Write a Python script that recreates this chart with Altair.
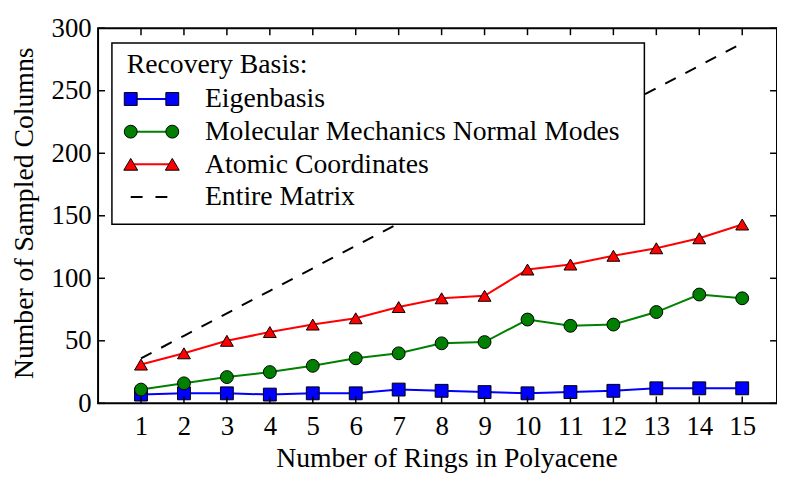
import altair as alt
import pandas as pd

# ---- data ----
rings = list(range(1, 16))
eigen = [7, 8, 8, 7, 8, 8, 11, 10, 9, 8, 9, 10, 12, 12, 12]
mm_modes = [11, 16, 21, 25, 30, 36, 40, 48, 49, 67, 62, 63, 73, 87, 84]
atomic = [31, 40, 50, 57, 63, 68, 77, 84, 86, 107, 111, 118, 124, 132, 143]
entire = [36, 54, 72, 90, 108, 126, 144, 162, 180, 198, 216, 234, 252, 270, 288]

series_names = ["Eigenbasis", "Molecular Mechanics Normal Modes", "Atomic Coordinates"]
entire_name = "Entire Matrix"
legend_title = "Recovery Basis:"
x_title = "Number of Rings in Polyacene"
y_title = "Number of Sampled Columns"
x_ticks = rings
y_ticks = [0, 50, 100, 150, 200, 250, 300]

# ---- styles ----
colors = ["#0000ff", "#008000", "#ff0000"]
TRI = "M0,-0.85L-1,0.85L1,0.85Z"
shapes = ["square", "circle", TRI]
sizes = [169, 169, 196]
FONT = "Liberation Serif"
W, H = 686, 379
XMAX = 15.81

rows = []
for name, vals in zip(series_names, [eigen, mm_modes, atomic]):
    for r, v in zip(rings, vals):
        rows.append({"ring": r, "value": v, "series": name})
df = pd.DataFrame(rows)
df_entire = pd.DataFrame({"ring": rings, "value": entire})
df_xt = pd.DataFrame({"ring": x_ticks})
df_yt = pd.DataFrame({"value": y_ticks})
one = pd.DataFrame({"k": [0]})

xscale = alt.Scale(domain=[0, XMAX], nice=False, zero=False)
yscale = alt.Scale(domain=[0, 300], nice=False, zero=False)

x_enc = alt.X(
    "ring:Q", scale=xscale,
    axis=alt.Axis(values=x_ticks, ticks=False, domain=False, grid=False,
                  labelPadding=10, title=x_title, titleX=352, titleY=64,
                  titleBaseline="alphabetic", titleAlign="center"),
)
y_enc = alt.Y(
    "value:Q", scale=yscale,
    axis=alt.Axis(values=y_ticks, ticks=False, domain=False, grid=False,
                  labelPadding=7, title=y_title, titleX=-66, titleY=H / 2 - 3,
                  titleBaseline="alphabetic", titleAlign="center", titleAngle=270),
)
cscale = alt.Scale(domain=series_names, range=colors)
sscale = alt.Scale(domain=series_names, range=shapes)
zscale = alt.Scale(domain=series_names, range=sizes)

lines = alt.Chart(df).mark_line(strokeWidth=2).encode(
    x=x_enc, y=y_enc,
    color=alt.Color("series:N", scale=cscale, legend=None),
)
points = alt.Chart(df).mark_point(filled=True, stroke="black", strokeWidth=1, opacity=1).encode(
    x="ring:Q", y="value:Q",
    fill=alt.Fill("series:N", scale=cscale, legend=None),
    shape=alt.Shape("series:N", scale=sscale, legend=None),
    size=alt.Size("series:N", scale=zscale, legend=None),
)
dashed = alt.Chart(df_entire).mark_line(color="black", strokeWidth=2, strokeDash=[12, 11]).encode(
    x="ring:Q", y="value:Q"
)

# inward ticks on all four sides
tick_style = dict(color="black", strokeWidth=1.5)
tb = alt.Chart(df_xt).mark_rule(**tick_style).encode(x="ring:Q", y=alt.value(H), y2=alt.value(H - 7))
tt = alt.Chart(df_xt).mark_rule(**tick_style).encode(x="ring:Q", y=alt.value(0), y2=alt.value(7))
tl = alt.Chart(df_yt).mark_rule(**tick_style).encode(y="value:Q", x=alt.value(0), x2=alt.value(7))
tr = alt.Chart(df_yt).mark_rule(**tick_style).encode(y="value:Q", x=alt.value(W - 7), x2=alt.value(W))

# legend (drawn in plot pixel coordinates)
LFS = 28
layers = [lines, points, dashed, tb, tt, tl, tr]
box = alt.Chart(one).mark_rect(fill="white", stroke="black", strokeWidth=1.5).encode(
    x=alt.value(14), x2=alt.value(552), y=alt.value(15), y2=alt.value(198)
)
layers.append(box)
layers.append(alt.Chart(one).mark_text(text=legend_title, align="left", baseline="alphabetic",
                                       font=FONT, fontSize=LFS, color="black").encode(
    x=alt.value(29), y=alt.value(45)))
sym_x1, sym_x2 = 33, 75
text_x = 108
base_y = 80
step = 33
for i, name in enumerate(series_names + [entire_name]):
    by = base_y + i * step
    sy = by - 8.5
    layers.append(alt.Chart(one).mark_text(text=name, align="left", baseline="alphabetic",
                                           font=FONT, fontSize=LFS, color="black").encode(
        x=alt.value(text_x), y=alt.value(by)))
    if i < 3:
        layers.append(alt.Chart(one).mark_rule(color=colors[i], strokeWidth=2).encode(
            x=alt.value(sym_x1), x2=alt.value(sym_x2), y=alt.value(sy)))
        for sx in (sym_x1, sym_x2):
            layers.append(alt.Chart(one).mark_point(
                shape=shapes[i], filled=True, fill=colors[i], stroke="black",
                strokeWidth=1, size=sizes[i], opacity=1).encode(
                x=alt.value(sx), y=alt.value(sy)))
    else:
        layers.append(alt.Chart(one).mark_rule(color="black", strokeWidth=2, strokeDash=[12, 13]).encode(
            x=alt.value(sym_x1), x2=alt.value(sym_x2 - 3), y=alt.value(sy)))

chart = alt.layer(*layers).properties(
    width=W, height=H,
    autosize=alt.AutoSizeParams(type="none"),
    padding={"left": 91, "top": 18, "right": 0, "bottom": 72},
    background="white",
).configure_view(
    stroke="black", strokeWidth=2
).configure_axis(
    labelFont=FONT, labelFontSize=27, labelColor="black",
    titleFont=FONT, titleFontSize=28, titleColor="black", titleFontWeight="normal",
).configure_text(font=FONT)

chart.save("out.html", embed_options={"renderer": "svg", "actions": False})
